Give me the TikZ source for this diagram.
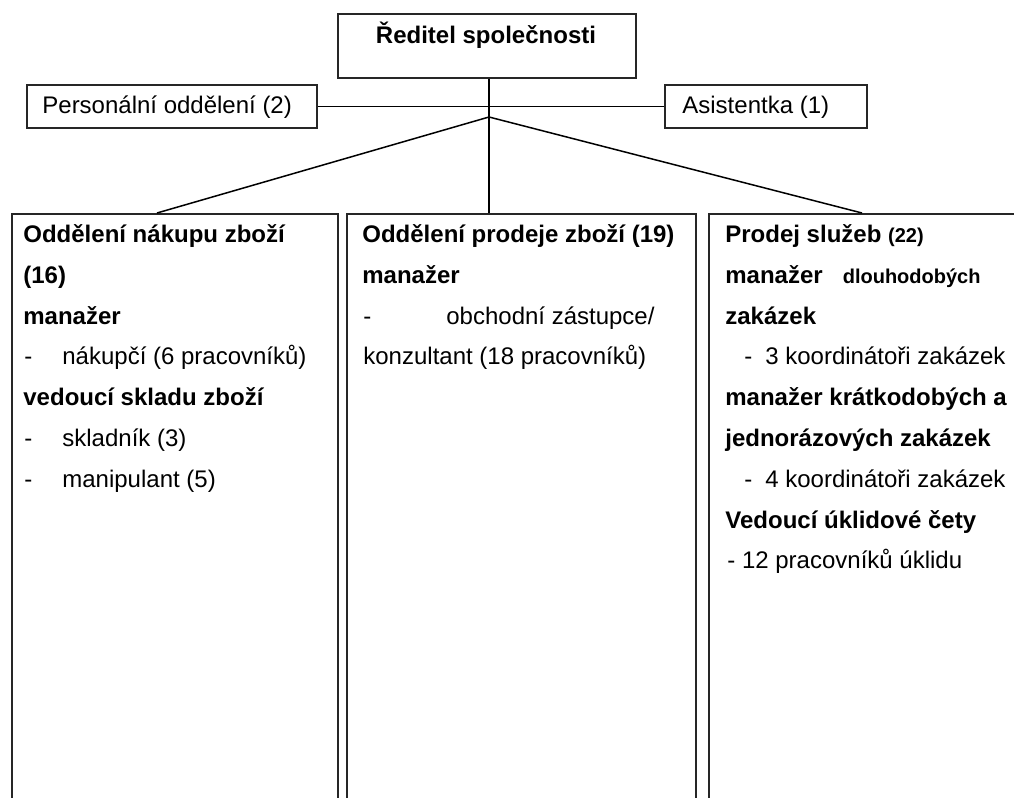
\documentclass[tikz,border=0pt]{standalone}
\usepackage{fontspec}
\setmainfont{Liberation Sans}
\begin{document}
\begin{tikzpicture}[x=0.5pt,y=-0.5pt,
  box/.style={draw=black!85,line width=0.8pt,rectangle,inner sep=0pt,anchor=north west},
  conn/.style={draw=black,line width=0.75pt},
  txt/.style={anchor=base west,inner sep=0pt,font=\fontsize{12}{14}\selectfont},
  btxt/.style={txt,font=\fontsize{12}{14}\selectfont\bfseries}]
\useasboundingbox (0,0) rectangle (1014,798);
\clip (0,0) rectangle (1014,798);
% top level
\node[box,minimum width=149pt,minimum height=32pt] (dir) at (337,13) {};
\node[btxt,anchor=base] (dirt) at (486,43) {Ředitel společnosti};
\node[box,minimum width=145pt,minimum height=21.5pt] (pers) at (26,84) {};
\node[txt] (perst) at (42,113) {Personální oddělení (2)};
\node[box,minimum width=101pt,minimum height=21.5pt] (asst) at (664,84) {};
\node[txt] (asstt) at (682,113) {Asistentka (1)};
% departments (open at the bottom, cut by the page)
\node[box,minimum width=163pt,minimum height=310pt] (d1) at (11,213) {};
\node[box,minimum width=174.5pt,minimum height=310pt] (d2) at (346,213) {};
\node[box,minimum width=161pt,minimum height=310pt] (d3) at (708,213) {};
% connectors
\coordinate (apex) at (489,117);
\coordinate (d1top) at (157,213);
\coordinate (d3top) at (862,213);
\draw[conn] (pers.east) -- (asst.west);
\draw[conn] (dir.south -| apex) -- (apex |- d2.north);
\draw[conn] (apex) -- (d1top);
\draw[conn] (apex) -- (d3top);
% left department
\node[btxt] (a1) at (23,242) {Oddělení nákupu zboží};
\node[btxt] (a2) at (23,283) {(16)};
\node[btxt] (a3) at (23,324) {manažer};
\node[txt] (a4) at (24,364) {-\hspace{15pt}nákupčí (6 pracovníků)};
\node[btxt] (a5) at (23,405) {vedoucí skladu zboží};
\node[txt] (a6) at (24,446) {-\hspace{15pt}skladník (3)};
\node[txt] (a7) at (24,487) {-\hspace{15pt}manipulant (5)};
% middle department
\node[btxt] (b1) at (362,242) {Oddělení prodeje zboží (19)};
\node[btxt] (b2) at (362,283) {manažer};
\node[txt] (b3) at (363,324) {-\hspace{37.5pt}obchodní zástupce/};
\node[txt] (b4) at (363,364) {konzultant (18 pracovníků)};
% right department
\node[btxt] (c1) at (725,242) {Prodej služeb {\fontsize{10}{12}\selectfont(22)}};
\node[btxt] (c2) at (725,283) {manažer\hspace{10pt}{\fontsize{10}{12}\selectfont dlouhodobých}};
\node[btxt] (c3) at (725,324) {zakázek};
\node[txt] (c4) at (744,364) {-\hspace{6.5pt}3 koordinátoři zakázek};
\node[btxt] (c5) at (725,405) {manažer krátkodobých a};
\node[btxt] (c6) at (725,446) {jednorázových zakázek};
\node[txt] (c7) at (744,487) {-\hspace{6.5pt}4 koordinátoři zakázek};
\node[btxt] (c8) at (725,528) {Vedoucí úklidové čety};
\node[txt] (c9) at (727,568) {- 12 pracovníků úklidu};
\end{tikzpicture}
\end{document}
